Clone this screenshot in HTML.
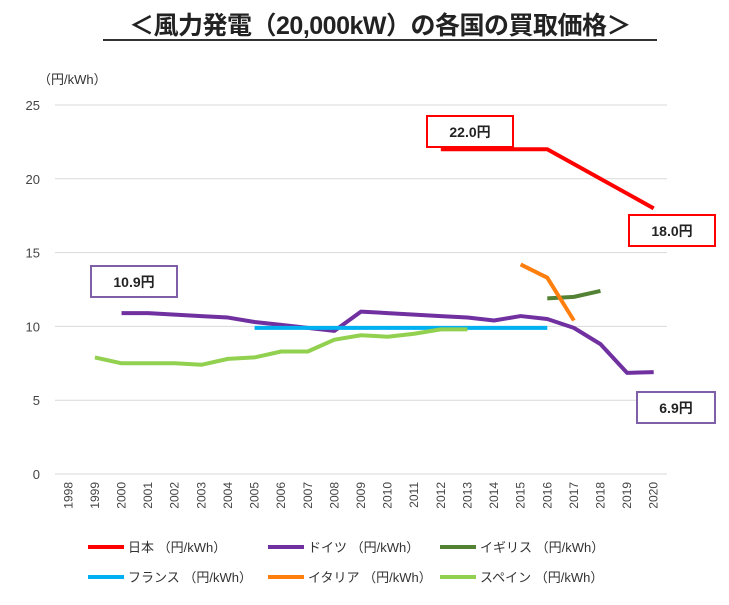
<!DOCTYPE html>
<html><head><meta charset="utf-8"><style>
body{margin:0;background:#fff;width:729px;height:600px;overflow:hidden;font-family:"Liberation Sans","Noto Sans CJK JP",sans-serif}
</style></head><body>
<svg id="c" width="729" height="600" xmlns="http://www.w3.org/2000/svg" font-family="Liberation Sans, Noto Sans CJK JP, sans-serif">
<text x="380" y="34" font-size="25" font-weight="bold" text-anchor="middle" fill="#222" letter-spacing="-0.5">＜風力発電（20,000kW）の各国の買取価格＞</text>
<line x1="103" y1="40" x2="657" y2="40" stroke="#333" stroke-width="2"/>
<text x="38" y="84" font-size="13" fill="#333">（円/kWh）</text>
<g id="grid"></g><g id="series"></g><g id="ann"></g><g id="legend"></g>
</svg>
<script>
const years=[1998,1999,2000,2001,2002,2003,2004,2005,2006,2007,2008,2009,2010,2011,2012,2013,2014,2015,2016,2017,2018,2019,2020];
const yTicks=[0,5,10,15,20,25];
const japanYears=[2012,2016,2020];const japanVals=[22,22,18];
const germanyYears=[2000,2001,2002,2003,2004,2005,2006,2007,2008,2009,2010,2011,2012,2013,2014,2015,2016,2017,2018,2019,2020];
const germanyVals=[10.9,10.9,10.8,10.7,10.6,10.3,10.1,9.9,9.7,11.0,10.9,10.8,10.7,10.6,10.4,10.7,10.5,9.9,8.8,6.85,6.9];
const ukYears=[2016,2017,2018];const ukVals=[11.9,12.0,12.4];
const franceYears=[2005,2016];const franceVals=[9.9,9.9];
const italyYears=[2015,2016,2017];const italyVals=[14.2,13.3,10.4];
const spainYears=[1999,2000,2001,2002,2003,2004,2005,2006,2007,2008,2009,2010,2011,2012,2013];
const spainVals=[7.9,7.5,7.5,7.5,7.4,7.8,7.9,8.3,8.3,9.1,9.4,9.3,9.5,9.8,9.8];
const legendNames=["日本 （円/kWh）","ドイツ （円/kWh）","イギリス （円/kWh）","フランス （円/kWh）","イタリア （円/kWh）","スペイン （円/kWh）"];
const L=55,R=667,T=105,B=474,step=(R-L)/years.length;
const X=y=>L+step*(y-years[0]+0.5);
const Y=v=>B-(B-T)*v/25;
const NS="http://www.w3.org/2000/svg";
function mk(t,a,p){const e=document.createElementNS(NS,t);for(const k in a)e.setAttribute(k,a[k]);p.appendChild(e);return e;}
const g=document.getElementById('grid');
yTicks.forEach(v=>{
 const l=mk('line',{x1:L,x2:R,y1:Y(v),y2:Y(v),stroke:'#d9d9d9','stroke-width':1},g);
 
 
 const t=mk('text',{x:40,y:Y(v)+5,'font-size':13,'text-anchor':'end',fill:'#444'},g);t.textContent=v;
 
 
});
years.forEach(y=>{
 const t=mk('text',{x:0,y:0,'font-size':12,'text-anchor':'end',fill:'#444',transform:`translate(${X(y)+4},${B+8}) rotate(-90)`},g);t.textContent=y;
 
 
});
const colors=['#ff0000','#7030a0','#548235','#00b0f0','#ff7f0e','#92d050'];
const data=[[japanYears,japanVals],[germanyYears,germanyVals],[ukYears,ukVals],[franceYears,franceVals],[italyYears,italyVals],[spainYears,spainVals]];
const keys=['japan','germany','uk','france','italy','spain'];
const s=document.getElementById('series');
data.forEach((d,i)=>{
 const pts=d[0].map((y,j)=>X(y)+','+Y(d[1][j])).join(' ');
 const p=mk('polyline',{points:pts,fill:'none',stroke:colors[i],'stroke-width':4,'stroke-linejoin':'round'},s);
 
 
});
const a=document.getElementById('ann');
[[427,116,'#ff0000','22.0円','label-japan-2012'],[629,215,'#ff0000','18.0円','label-japan-2020'],[91,266,'#7f5fa8','10.9円','label-germany-2000'],[637,392,'#7f5fa8','6.9円','label-germany-2020']].forEach(b=>{
 const gg=mk('g',{},a);
 
 
 const w=b[3].length>4?86:78;
 mk('rect',{x:b[0],y:b[1],width:w,height:31,fill:'#fff',stroke:b[2],'stroke-width':2},gg);
 const t=mk('text',{x:b[0]+w/2,y:b[1]+21,'font-size':14,'font-weight':'bold','text-anchor':'middle',fill:'#222'},gg);t.textContent=b[3];
});
const lg=document.getElementById('legend');
legendNames.forEach((n,i)=>{
 const x=[88,268,440][i%3],y=i<3?547:577;
 const gg=mk('g',{},lg);
 
 
 mk('line',{x1:x,x2:x+36,y1:y,y2:y,stroke:colors[i],'stroke-width':4},gg);
 const t=mk('text',{x:x+40,y:y+5,'font-size':13,fill:'#333'},gg);t.textContent=n;
});
</script>
</body></html>
